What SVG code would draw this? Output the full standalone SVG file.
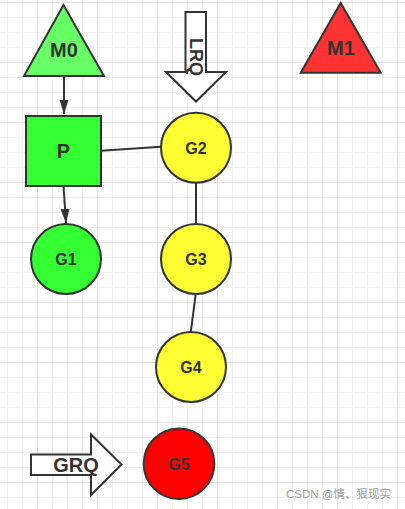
<svg xmlns="http://www.w3.org/2000/svg" width="405" height="509" viewBox="0 0 405 509">
<style>
.sh{stroke:#333;stroke-width:2}
.ln{stroke:#333;stroke-width:2;fill:none}
.lb{font-family:"Liberation Sans",Arial,sans-serif;font-weight:bold;fill:#333;text-anchor:middle;dominant-baseline:central}
.big{font-size:20px}
.sm{font-size:16px}
.wm{font-family:"Liberation Sans","Noto Sans CJK SC",sans-serif;font-size:11.5px;fill:#a0a0a0}
</style>
<defs>
<pattern id="grid" patternUnits="userSpaceOnUse" x="37" y="2" width="60" height="60">
<path d="M15.5,0V60M30.5,0V60M45.5,0V60M0,15.5H60M0,30.5H60M0,45.5H60" stroke="#f0f0f0" stroke-width="1" fill="none"/>
<path d="M0.5,0V60M0,0.5H60" stroke="#e2e2e2" stroke-width="1" fill="none"/>
</pattern>
<marker id="ah" viewBox="0 0 14 10" refX="14" refY="5" markerWidth="14" markerHeight="10" markerUnits="userSpaceOnUse" orient="auto">
<path d="M0,0.5L14,5L0,9.5z" fill="#333"/>
</marker>
</defs>
<rect width="405" height="509" fill="#fff"/>
<rect width="405" height="509" fill="url(#grid)"/>
<g id="connectors">
<line class="ln" x1="64" y1="77" x2="64" y2="114" marker-end="url(#ah)"/>
<line class="ln" x1="63.5" y1="186" x2="66" y2="223" marker-end="url(#ah)"/>
<line class="ln" x1="101" y1="150.7" x2="161" y2="146.7"/>
<line class="ln" x1="196" y1="182.7" x2="196" y2="224"/>
<line class="ln" x1="195.7" y1="294.3" x2="190.7" y2="332.3"/>
</g>
<g id="M0">
<polygon class="sh" points="63.5,5 24,76 104,76" fill="#66ff66"/>
<text class="lb big" x="64" y="50">M0</text>
</g>
<g id="M1">
<polygon class="sh" points="340.7,3 300.7,72.7 380.7,72.7" fill="#ff3333"/>
<text class="lb big" x="341" y="47.5">M1</text>
</g>
<g id="LRQ">
<polygon class="sh" points="185.5,12 206,12 206,72 226,72 196,101.5 166,72 185.5,72" fill="#fff"/>
<text class="lb" font-size="18" transform="translate(196,57) rotate(90)">LRQ</text>
</g>
<g id="P">
<rect class="sh" x="26" y="116" width="75" height="70" fill="#33ff33"/>
<text class="lb big" x="63.5" y="151">P</text>
</g>
<g id="G2">
<circle class="sh" cx="196" cy="147.7" r="35" fill="#ffff33"/>
<text class="lb sm" x="196" y="148">G2</text>
</g>
<g id="G1">
<circle class="sh" cx="66" cy="259" r="35" fill="#33ff33"/>
<text class="lb sm" x="66" y="259">G1</text>
</g>
<g id="G3">
<circle class="sh" cx="196" cy="259" r="35" fill="#ffff33"/>
<text class="lb sm" x="196" y="259">G3</text>
</g>
<g id="G4">
<circle class="sh" cx="191" cy="367" r="35" fill="#ffff33"/>
<text class="lb sm" x="191" y="367">G4</text>
</g>
<g id="GRQ">
<polygon class="sh" points="31,454.5 91,454.5 91,434.5 121.5,464.5 91,495 91,475 31,475" fill="#fff"/>
<text class="lb big" x="76" y="464.5">GRQ</text>
</g>
<g id="G5">
<circle class="sh" cx="179" cy="463.7" r="35.3" fill="#ff0000"/>
<text class="lb sm" x="179" y="464">G5</text>
</g>
<text class="wm" x="286" y="498">CSDN @情、狠现实</text>
</svg>
